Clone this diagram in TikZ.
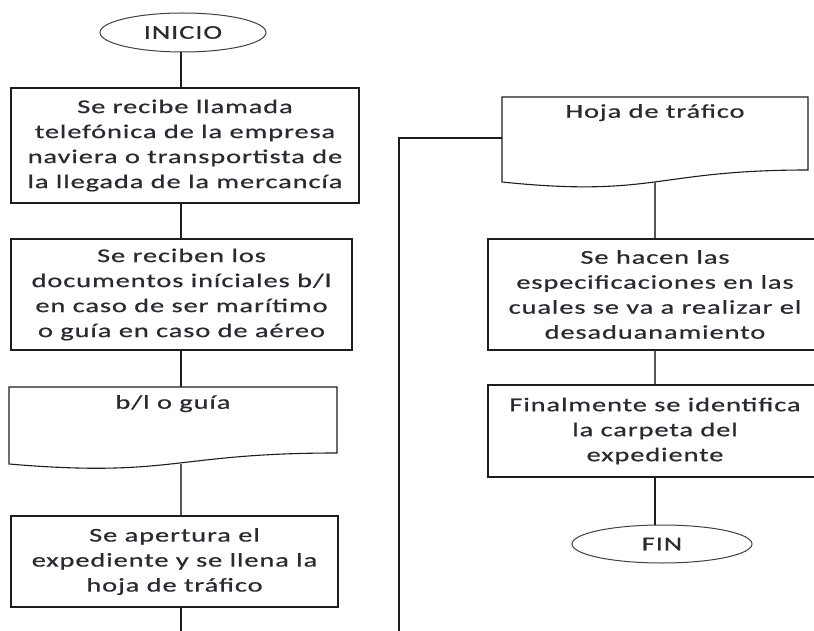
\documentclass[tikz,border=0pt]{standalone}
\usepackage{fontspec}
\setmainfont{Carlito}[FakeStretch=1.46, LetterSpace=4.5, FakeBold=0.6]
\usetikzlibrary{shapes.geometric}
\definecolor{txt}{RGB}{45,40,50}
\definecolor{edge}{RGB}{30,30,30}
\begin{document}
\begin{tikzpicture}[x=1pt,y=-1pt,
  lbl/.style={text=txt, align=center, font=\fontsize{19.5}{25}\selectfont, inner sep=0pt},
  box/.style={lbl, draw=edge, line width=1.1pt},
  term/.style={lbl, ellipse, draw=edge!85, line width=1pt},
  region/.style={inner sep=0pt},
  docline/.style={draw=edge, line width=1.1pt},
  conn/.style={draw=edge, line width=1.1pt}]
\clip (0,0) rectangle (814,631);
\fill[white] (0,0) rectangle (814,631);

% left column
\node[term, minimum width=166pt, minimum height=39pt] (inicio) at (183,32.5) {INICIO};
\node[box, minimum width=348pt, minimum height=115pt] (b1) at (185,145.5)
  {Se recibe llamada\\telefónica de la empresa\\naviera o transportista de\\la llegada de la mercancía};
\node[box, minimum width=341pt, minimum height=111pt] (b2) at (181.5,294.5)
  {Se reciben los\\documentos iníciales b/l\\en caso de ser marítimo\\o guía en caso de aéreo};
\node[region, minimum width=328pt, minimum height=66pt] (d1) at (173,420) {};
\draw[docline] (9,387) -- (337,387) -- (337,453)
  .. controls (173,453) and (173,478) .. (9,464) -- cycle;
\node[lbl, anchor=north] (d1t) at (173,395) {b/l o guía};
\coordinate (d1b) at (181,463.5);
\node[box, minimum width=327pt, minimum height=91pt] (b4) at (174.5,561.5)
  {Se apertura el\\expediente y se llena la\\hoja de tráfico};
\coordinate (offa) at (181,640);

% right column
\node[region, minimum width=306pt, minimum height=73pt] (d2) at (655,133.5) {};
\draw[docline] (502,97) -- (808,97) -- (808,170)
  .. controls (655,170) and (655,197.8) .. (502,182) -- cycle;
\node[lbl, anchor=north] (d2t) at (655,104) {Hoja de tráfico};
\coordinate (d2b) at (655,182);
\coordinate (d2in) at (502,138);
\coordinate (offb) at (399,640);
\node[box, minimum width=334pt, minimum height=111pt] (b5) at (655,294.5)
  {Se hacen las\\especificaciones en las\\cuales se va a realizar el\\desaduanamiento};
\node[box, minimum width=334pt, minimum height=92pt] (b6) at (655,431)
  {Finalmente se identifica\\la carpeta del\\expediente};
\node[term, minimum width=180pt, minimum height=38pt] (fin) at (662,544) {FIN};

% connectors
\draw[conn] (inicio.south -| 181,0) -- (b1.north -| 181,0);
\draw[conn] (b1.south -| 181,0) -- (b2.north -| 181,0);
\draw[conn] (b2.south -| 181,0) -- (d1.north -| 181,0);
\draw[conn, draw=edge!75] (d1b) -- (b4.north -| d1b);
\draw[conn] (b4.south -| offa) -- (offa);
\draw[conn] (d2in) -| (offb);
\draw[conn, draw=edge!75] (d2b) -- (b5.north -| d2b);
\draw[conn, draw=edge!75] (b5.south -| d2b) -- (b6.north -| d2b);
\draw[conn] (b6.south -| d2b) -- (fin.north -| d2b);
\end{tikzpicture}
\end{document}
